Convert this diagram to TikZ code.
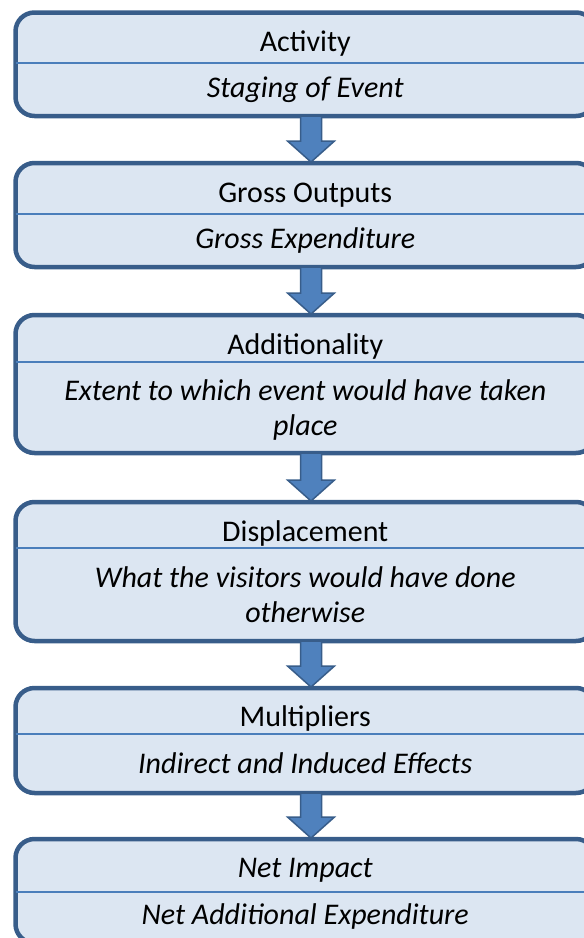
\documentclass[tikz,border=0pt]{standalone}
\usepackage{fontspec}
\setmainfont{Carlito}
\usetikzlibrary{calc}
\definecolor{boxfill}{HTML}{DCE6F2}
\definecolor{boxline}{HTML}{385D8A}
\definecolor{divline}{HTML}{4A7EBB}
\definecolor{arrfill}{HTML}{4F81BD}
\tikzset{
  stagebox/.style={draw=boxline, fill=boxfill, line width=4.5pt, rounded corners=19pt,
    minimum width=579.5pt, inner sep=0pt, outer sep=0pt},
  divider/.style={draw=divline, line width=2pt},
  ttl/.style={anchor=base, inner sep=0pt, font=\fontsize{30}{35}\selectfont},
  sub/.style={anchor=base, inner sep=0pt, align=center, font=\fontsize{30}{35}\selectfont\itshape},
  flowarrow/.style={fill=arrfill, draw=boxline, line width=1.5pt, line join=miter}
}
\newcommand{\flowarr}[2]{%
  \path[flowarrow] let \p1=(#1.south), \p2=(#2.north) in
    (\x1+5.75pt-10.5pt,\y1) -- (\x1+5.75pt-10.5pt,\y2+22pt) -- (\x1+5.75pt-23.5pt,\y2+22pt)
    -- (\x1+5.75pt,\y2+1pt) -- (\x1+5.75pt+23.5pt,\y2+22pt) -- (\x1+5.75pt+10.5pt,\y2+22pt)
    -- (\x1+5.75pt+10.5pt,\y1) -- cycle;}
\begin{document}
\begin{tikzpicture}[x=1pt,y=1pt]
\useasboundingbox (0,-938) rectangle (584,0);
\node[stagebox, minimum height=103.5pt] (b1) at (305.25,-64.25) {};
\node[stagebox, minimum height=104pt] (b2) at (305.25,-215) {};
\node[stagebox, minimum height=138pt] (b3) at (305.25,-384) {};
\node[stagebox, minimum height=139pt] (b4) at (305.25,-571.5) {};
\node[stagebox, minimum height=105pt] (b5) at (305.25,-740.5) {};
\node[stagebox, minimum height=104pt] (b6) at (305.25,-891) {};
\draw[divider] (b1.west |- 0,-63) -- (b1.east |- 0,-63);
\draw[divider] (b2.west |- 0,-214) -- (b2.east |- 0,-214);
\draw[divider] (b3.west |- 0,-362) -- (b3.east |- 0,-362);
\draw[divider] (b4.west |- 0,-548) -- (b4.east |- 0,-548);
\draw[divider] (b5.west |- 0,-734) -- (b5.east |- 0,-734);
\draw[divider] (b6.west |- 0,-892) -- (b6.east |- 0,-892);
\node[ttl] (t1) at (305.25,-51.5) {Activity};
\node[sub] (s1) at (305.25,-97.5) {Staging of Event};
\node[ttl] (t2) at (305.25,-202) {Gross Outputs};
\node[sub] (s2) at (305.25,-248.5) {Gross Expenditure};
\node[ttl] (t3) at (305.25,-354) {Additionality};
\node[sub] (s3) at (305.25,-435.5) {Extent to which event would have taken\\place};
\node[ttl] (t4) at (305.25,-541) {Displacement};
\node[sub] (s4) at (305.25,-622) {What the visitors would have done\\otherwise};
\node[ttl] (t5) at (305.25,-726.5) {Multipliers};
\node[sub] (s5) at (305.25,-773.5) {Indirect and Induced Effects};
\node[sub] (t6) at (305.25,-877.5) {Net Impact};
\node[sub] (s6) at (305.25,-924) {Net Additional Expenditure};
\flowarr{b1}{b2}
\flowarr{b2}{b3}
\flowarr{b3}{b4}
\flowarr{b4}{b5}
\flowarr{b5}{b6}
\end{tikzpicture}
\end{document}
